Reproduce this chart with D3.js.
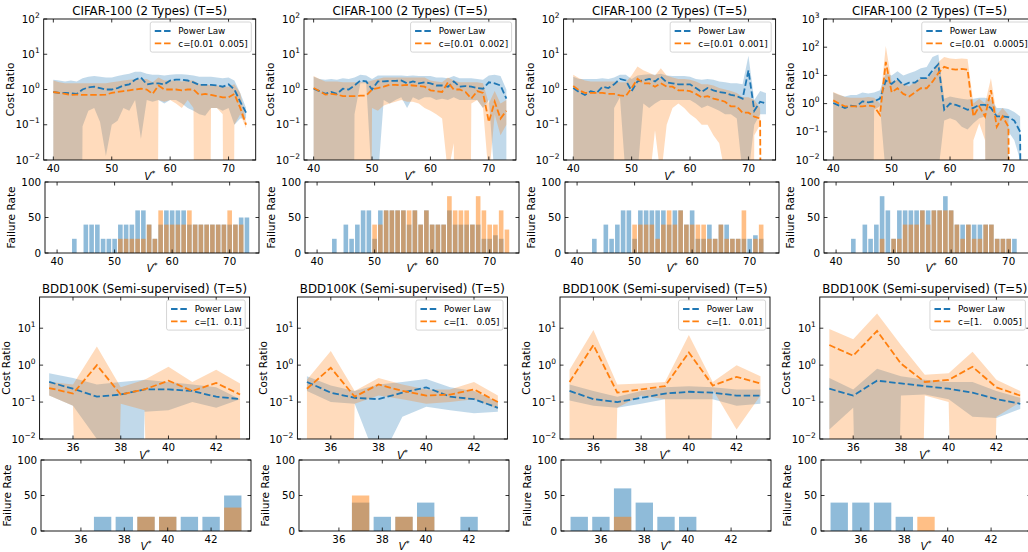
<!DOCTYPE html>
<html>
<head>
<meta charset="utf-8">
<script src="https://cdn.jsdelivr.net/npm/d3@7"></script>
<style>
  body { margin: 0; background: #fff; }
  svg { font-family: "DejaVu Sans", sans-serif; }
  text { white-space: pre; }
</style>
</head>
<body>
<svg id="chart" width="1028" height="552"></svg>
<script>
// null = lower bound below zero (matplotlib clips it to the bottom of a log axis)
const N = null;

const vCifar = [40,41,42,43,44,45,46,47,48,49,50,51,52,53,54,55,56,57,58,59,60,61,62,63,64,65,66,67,68,69,70,71,72,73];
const vBdd = [35,36,37,38,39,40,41,42,43];

const cifarTitle = "CIFAR-100 (2 Types) (T=5)";
const bddTitle = "BDD100K (Semi-supervised) (T=5)";
const cLabels = ["c=[0.01  0.005]", "c=[0.01  0.002]", "c=[0.01  0.001]", "c=[0.01   0.0005]",
                 "c=[1.  0.1]", "c=[1.   0.05]", "c=[1.   0.01]", "c=[1.    0.005]"];

// ---------- CIFAR panel 1 ----------
const p1PowMean = [0.85,0.8,0.8,0.78,0.75,1.0,1.15,1.2,1.1,1.0,1.0,1.1,1.3,1.4,1.9,2.2,1.4,1.5,1.5,1.4,1.8,1.9,1.9,1.8,1.6,1.35,1.35,1.35,1.3,1.2,1.4,1.0,0.45,0.22];
const p1PowHi = [1.9,1.8,1.7,1.8,1.7,2.1,2.3,2.4,2.3,2.2,2.2,2.4,2.6,2.8,3.2,3.2,2.8,2.6,2.6,2.5,2.6,2.7,2.7,2.6,2.5,2.3,2.3,2.3,2.2,2.1,2.2,1.8,0.8,0.3];
const p1PowLo = [N,N,N,N,N,0.09,0.25,0.3,0.12,0.013,0.1,0.13,0.3,0.25,0.5,0.04,0.5,0.45,0.5,0.4,0.5,0.5,0.4,0.3,0.25,0.2,0.18,0.3,0.3,0.25,0.3,0.1,0.15,0.15];
const p1CMean = [0.85,0.8,0.75,0.7,0.72,0.7,0.7,0.7,0.7,0.72,0.8,0.85,0.9,0.95,1.0,1.05,1.0,0.75,1.3,1.0,1.0,1.0,0.95,1.0,1.0,0.7,0.75,0.7,0.65,0.6,0.6,0.75,0.3,0.1];
const p1CHi = [1.8,1.6,1.5,1.5,1.5,1.5,1.5,1.5,1.5,1.5,1.6,1.7,1.8,1.9,2.0,2.0,2.0,1.6,2.2,1.8,1.8,1.8,1.7,1.8,1.8,1.4,1.4,1.3,1.3,1.2,1.2,1.4,0.8,0.12];
const p1CLo = [N,N,N,N,N,N,N,N,N,N,N,N,N,N,N,N,N,N,0.5,0.45,0.5,0.4,0.3,0.5,0.3,N,N,0.3,0.3,0.2,N,0.1,0.2,0.08];
const p1PowFail = [0,0,0,20,0,40,40,40,20,20,20,40,40,40,60,60,40,20,40,60,60,60,60,40,40,40,40,40,40,40,40,40,50,50];
const p1CFail = [0,0,0,0,0,0,0,0,0,0,0,20,20,20,20,20,40,20,60,40,40,40,40,60,40,40,40,40,40,40,60,40,40,0];

// ---------- CIFAR panel 2 ----------
const p2PowMean = [1.05,0.9,0.75,0.85,0.75,1.05,1.0,1.3,1.8,1.7,1.0,1.7,1.7,1.75,1.75,1.8,1.5,1.7,1.5,1.6,1.5,1.3,1.3,1.2,1.7,1.2,1.25,1.2,1.1,1.05,1.6,1.5,1.3,0.55];
const p2PowHi = [2.3,2.0,1.9,2.0,1.9,2.1,2.0,2.2,2.6,2.5,2.0,2.5,2.5,2.5,2.5,2.5,2.4,2.5,2.4,2.4,2.4,2.2,2.2,2.1,2.4,2.1,2.1,2.1,2.0,1.9,2.5,2.6,2.4,1.0];
const p2PowLo = [N,N,N,N,N,N,N,0.2,1.5,1.5,0.002,0.003,0.5,0.4,0.5,0.6,0.3,0.6,0.5,0.6,0.6,0.5,0.55,0.5,0.6,0.5,0.5,0.5,0.5,0.3,0.5,0.003,N,N];
const p2CMean = [1.1,0.9,0.72,0.75,0.72,0.65,0.65,0.65,0.67,0.67,1.0,1.1,1.2,1.35,1.35,1.3,1.35,1.3,1.25,1.2,0.95,0.9,0.85,1.6,1.0,1.0,0.85,0.55,0.9,0.8,0.12,0.45,0.15,0.25];
const p2CHi = [2.4,2.0,1.7,1.7,1.7,1.6,1.6,1.6,1.6,1.6,1.8,2.0,2.2,2.2,2.2,2.2,2.2,2.2,2.2,2.2,1.8,1.7,1.6,2.2,1.8,1.6,1.6,1.6,1.6,1.5,0.4,0.9,0.4,0.5];
const p2CLo = [N,N,N,N,N,N,N,N,N,N,0.3,0.25,0.35,0.4,0.45,0.5,0.45,0.45,0.4,0.3,0.25,0.2,0.15,0.004,0.03,N,N,0.4,0.5,0.3,0.003,0.2,0.05,0.1];
const p2PowFail = [0,0,0,20,0,40,20,40,60,60,20,60,60,60,60,60,40,60,40,60,40,40,40,60,40,40,40,40,40,20,20,25,20,0];
const p2CFail = [0,0,0,0,0,0,0,0,0,0,40,40,60,60,60,60,60,60,40,60,40,40,40,80,60,60,60,40,80,60,40,40,60,33];

// ---------- CIFAR panel 3 ----------
const p3PowMean = [1.1,0.85,0.7,0.9,0.8,1.2,1.1,1.4,2.0,1.8,0.9,1.7,1.8,2.0,1.7,2.3,1.6,1.5,1.4,1.4,1.4,1.1,0.85,1.1,0.95,0.85,0.8,0.7,0.65,0.55,3.5,0.25,0.45,0.4];
const p3PowHi = [2.3,2.0,2.0,2.0,2.0,2.1,2.0,2.2,2.6,2.6,2.0,2.5,2.6,2.7,2.6,2.8,2.5,2.4,2.4,2.4,2.3,2.0,1.9,2.0,1.9,1.7,1.6,1.5,1.5,1.4,9,0.5,0.9,0.8];
const p3PowLo = [N,N,N,N,N,N,N,0.3,0.6,0.003,N,0.004,0.4,0.3,0.4,0.5,0.5,0.5,0.5,0.5,0.5,0.4,0.3,0.35,0.3,0.25,0.2,0.2,0.15,0.004,0.004,0.1,0.2,0.2];
const p3CMean = [1.25,0.95,0.8,0.8,0.8,0.8,0.75,0.75,0.68,0.65,1.1,2.0,1.5,1.5,1.2,1.5,1.2,1.2,0.95,0.95,0.9,0.75,0.6,0.65,0.55,0.5,0.45,0.33,0.33,0.22,0.22,0.17,0.15,N];
const p3CHi = [2.6,2.1,1.8,1.7,1.7,1.7,1.7,1.7,1.6,1.6,2.5,4.5,3.5,3.0,2.5,4.0,2.5,2.2,2.0,2.0,1.9,1.7,1.4,1.4,1.3,1.1,1.0,0.9,0.8,0.6,0.6,0.5,0.3,N];
const p3CLo = [N,N,N,N,N,N,N,N,N,N,N,N,N,0.002,0.07,0.003,0.1,0.3,0.4,0.3,0.2,0.15,0.1,0.1,0.05,0.03,0.004,N,N,N,N,0.05,0.1,N];
const p3PowFail = [0,0,0,20,0,40,20,40,60,60,20,60,60,60,60,60,40,60,60,40,60,20,20,40,20,40,40,20,20,20,20,25,20,0];
const p3CFail = [0,0,0,0,0,0,0,0,0,0,40,40,40,40,20,40,60,40,60,40,40,40,40,20,20,40,20,20,20,60,0,20,40,0];

// ---------- CIFAR panel 4 ----------
const p4PowMean = [1.05,0.85,0.7,0.85,0.8,1.2,1.1,1.2,1.5,6.5,5,7.5,4.5,5.5,5.5,8,8,15,25,0.6,1.0,0.9,0.75,0.6,0.7,0.9,0.9,0.7,0.35,0.35,0.33,0.25,0.1,N];
const p4PowHi = [2.5,2.0,1.8,2.0,2.0,2.5,2.3,2.5,3.0,12,10,14,10,12,14,18,20,45,55,1.5,1.8,1.6,1.5,1.4,1.5,1.6,1.6,1.4,0.7,0.7,0.65,0.5,0.35,N];
const p4PowLo = [N,N,N,N,N,N,N,0.6,0.8,0.003,N,N,N,N,N,N,N,N,0.004,0.25,0.3,0.25,0.15,0.12,0.2,0.3,0.35,N,N,N,0.1,0.05,0.01,N];
const p4CMean = [1.3,1.0,0.8,0.8,0.8,0.8,0.85,0.8,0.4,30,2.5,3.5,2.2,1.8,2.5,3.5,3.5,6,12,20,17,16,17,16,0.35,0.8,0.35,3,0.15,0.35,0.15,N,N,N];
const p4CHi = [2.6,2.1,1.7,1.6,1.6,1.6,1.7,1.6,1.0,110,6,7,5,4,6,8,8,12,30,45,40,38,40,38,1.0,1.5,1.0,8,0.4,0.7,0.4,N,N,N];
const p4CLo = [N,N,N,N,N,N,N,N,N,N,N,N,N,N,N,N,N,N,N,N,N,N,N,N,0.05,0.2,0.05,N,N,N,N,N,N,N];
const p4PowFail = [0,0,0,20,0,40,20,40,80,60,20,60,60,60,60,60,60,60,60,80,60,40,40,40,40,40,40,40,20,20,20,20,0,0];
const p4CFail = [0,0,0,0,0,0,0,0,20,0,20,20,40,40,40,60,40,60,60,60,60,40,20,40,20,20,40,40,20,20,20,0,0,0];

// ---------- BDD panel 5 ----------
const p5PowMean = [0.35,0.23,0.14,0.16,0.22,0.22,0.2,0.14,0.12];
const p5PowHi = [0.6,0.45,0.3,0.35,0.4,0.35,0.3,0.25,0.12];
const p5PowLo = [0.15,0.08,0.01,N,0.055,0.06,0.1,0.07,0.12];
const p5CMean = [0.24,0.17,1.0,0.16,0.22,0.38,0.2,0.33,0.16];
const p5CHi = [0.35,0.3,3.2,0.25,0.4,0.9,0.35,0.75,0.32];
const p5CLo = [0.15,0.08,N,0.09,0.06,N,N,N,N];
const p5PowFail = [0,0,20,20,20,20,20,20,50];
const p5CFail = [0,0,0,0,20,20,0,0,33];

// ---------- BDD panel 6 ----------
const p6PowMean = [0.35,0.18,0.13,0.12,0.18,0.25,0.14,0.12,0.07];
const p6PowHi = [0.5,0.28,0.2,0.3,0.35,0.42,0.25,0.2,0.1];
const p6PowLo = [0.2,0.1,0.09,0.002,0.04,0.075,0.06,0.05,0.055];
const p6CMean = [0.23,0.85,0.14,0.3,0.2,0.15,0.16,0.22,0.1];
const p6CHi = [0.4,2.4,0.2,0.45,0.3,0.22,0.22,0.35,0.15];
const p6CLo = [N,N,0.09,0.15,0.12,0.09,0.1,0.12,0.065];
const p6PowFail = [0,0,40,20,20,40,0,20,0];
const p6CFail = [0,0,50,0,20,20,0,0,0];

// ---------- BDD panel 7 ----------
const p7PowMean = [0.2,0.12,0.1,0.13,0.17,0.19,0.18,0.15,0.15];
const p7PowHi = [0.3,0.2,0.14,0.2,0.25,0.27,0.25,0.22,0.22];
const p7PowLo = [0.11,0.08,0.07,0.09,0.12,0.12,0.12,0.08,0.09];
const p7CMean = [0.35,3.5,0.18,0.22,0.27,2.2,0.28,0.48,0.32];
const p7CHi = [0.75,9,0.3,0.32,0.35,6.5,0.35,1.0,0.5];
const p7CLo = [N,N,0.07,0.15,0.12,N,0.22,0.018,0.15];
const p7PowFail = [20,20,60,40,20,20,0,0,0];
const p7CFail = [0,0,20,0,0,0,0,0,0];

// ---------- BDD panel 8 ----------
const p8PowMean = [0.23,0.15,0.38,0.32,0.27,0.23,0.18,0.12,0.09];
const p8PowHi = [0.45,0.22,0.8,0.5,0.4,0.35,0.35,0.2,0.13];
const p8PowLo = [0.018,0.07,N,0.15,0.16,0.12,0.04,0.037,0.065];
const p8CMean = [3.5,1.8,8.5,1.1,0.35,0.4,0.9,0.25,0.15];
const p8CHi = [9.5,5,25,3.5,0.55,0.6,2.3,0.4,0.2];
const p8CLo = [N,N,N,N,0.15,0.1,N,0.04,0.1];
const p8PowFail = [40,40,40,20,0,0,0,0,0];
const p8CFail = [0,0,0,0,20,0,0,0,0];

// ---------- layout ----------
const svg = d3.select("#chart");
const BLUE = "#1f77b4", ORANGE = "#ff7f0e";

const rows = {
  cifarLine: { top: 19, h: 141, lefts: [43.7, 304, 563.6, 823.6], w: 212 },
  cifarBar:  { top: 182, h: 71, lefts: [45, 305, 565, 824], w: 214 },
  bddLine:   { top: 297, h: 142, lefts: [39.6, 297.4, 560, 819.8], w: 210 },
  bddBar:    { top: 460, h: 71, lefts: [41, 299, 561, 821], w: 210 }
};

const linePanels = [
  { row: "cifarLine", col: 0, v: vCifar, xDom: [38.35, 74.65], yDom: [0.01, 100], xt: [40,50,60,70], yt: [-2,-1,0,1,2], title: cifarTitle,
    pow: [p1PowMean, p1PowLo, p1PowHi], c: [p1CMean, p1CLo, p1CHi], lab: cLabels[0] },
  { row: "cifarLine", col: 1, v: vCifar, xDom: [38.35, 74.65], yDom: [0.01, 100], xt: [40,50,60,70], yt: [-2,-1,0,1,2], title: cifarTitle,
    pow: [p2PowMean, p2PowLo, p2PowHi], c: [p2CMean, p2CLo, p2CHi], lab: cLabels[1] },
  { row: "cifarLine", col: 2, v: vCifar, xDom: [38.35, 74.65], yDom: [0.01, 100], xt: [40,50,60,70], yt: [-2,-1,0,1,2], title: cifarTitle,
    pow: [p3PowMean, p3PowLo, p3PowHi], c: [p3CMean, p3CLo, p3CHi], lab: cLabels[2] },
  { row: "cifarLine", col: 3, v: vCifar, xDom: [38.35, 74.65], yDom: [0.01, 1000], xt: [40,50,60,70], yt: [-2,-1,0,1,2,3], title: cifarTitle,
    pow: [p4PowMean, p4PowLo, p4PowHi], c: [p4CMean, p4CLo, p4CHi], lab: cLabels[3] },
  { row: "bddLine", col: 0, v: vBdd, xDom: [34.6, 43.4], yDom: [0.01, 70], xt: [36,38,40,42], yt: [-2,-1,0,1], title: bddTitle,
    pow: [p5PowMean, p5PowLo, p5PowHi], c: [p5CMean, p5CLo, p5CHi], lab: cLabels[4] },
  { row: "bddLine", col: 1, v: vBdd, xDom: [34.6, 43.4], yDom: [0.01, 70], xt: [36,38,40,42], yt: [-2,-1,0,1], title: bddTitle,
    pow: [p6PowMean, p6PowLo, p6PowHi], c: [p6CMean, p6CLo, p6CHi], lab: cLabels[5] },
  { row: "bddLine", col: 2, v: vBdd, xDom: [34.6, 43.4], yDom: [0.01, 70], xt: [36,38,40,42], yt: [-2,-1,0,1], title: bddTitle,
    pow: [p7PowMean, p7PowLo, p7PowHi], c: [p7CMean, p7CLo, p7CHi], lab: cLabels[6] },
  { row: "bddLine", col: 3, v: vBdd, xDom: [34.6, 43.4], yDom: [0.01, 70], xt: [36,38,40,42], yt: [-2,-1,0,1], title: bddTitle,
    pow: [p8PowMean, p8PowLo, p8PowHi], c: [p8CMean, p8CLo, p8CHi], lab: cLabels[7] }
];

const barPanels = [
  { row: "cifarBar", col: 0, v: vCifar, xDom: [37.9, 75.1], xt: [40,50,60,70], pow: p1PowFail, c: p1CFail },
  { row: "cifarBar", col: 1, v: vCifar, xDom: [37.9, 75.1], xt: [40,50,60,70], pow: p2PowFail, c: p2CFail },
  { row: "cifarBar", col: 2, v: vCifar, xDom: [37.9, 75.1], xt: [40,50,60,70], pow: p3PowFail, c: p3CFail },
  { row: "cifarBar", col: 3, v: vCifar, xDom: [37.9, 75.1], xt: [40,50,60,70], pow: p4PowFail, c: p4CFail },
  { row: "bddBar", col: 0, v: vBdd, xDom: [34.16, 43.84], xt: [36,38,40,42], pow: p5PowFail, c: p5CFail },
  { row: "bddBar", col: 1, v: vBdd, xDom: [34.16, 43.84], xt: [36,38,40,42], pow: p6PowFail, c: p6CFail },
  { row: "bddBar", col: 2, v: vBdd, xDom: [34.16, 43.84], xt: [36,38,40,42], pow: p7PowFail, c: p7CFail },
  { row: "bddBar", col: 3, v: vBdd, xDom: [34.16, 43.84], xt: [36,38,40,42], pow: p8PowFail, c: p8CFail }
];

const FS_TICK = 10.3, FS_LABEL = 10.5, FS_TITLE = 11.8, FS_LEG = 8.8;
const TICK = 3.5;

function vStar(g, x, y) {
  const t = g.append("text").attr("x", x).attr("y", y).attr("text-anchor", "middle")
    .style("font-size", FS_LABEL + "px");
  t.append("tspan").style("font-style", "italic").text("V");
  t.append("tspan").attr("dy", -4).style("font-size", "7.5px").text("*");
}

function yLabel(g, x, y, s) {
  g.append("text").attr("transform", `translate(${x},${y}) rotate(-90)`)
    .attr("text-anchor", "middle").style("font-size", FS_LABEL + "px").text(s);
}

function frame(g, w, h, x, y, xt, yt) {
  // inward ticks on all four sides
  xt.forEach(t => {
    g.append("line").attr("x1", x(t)).attr("x2", x(t)).attr("y1", h).attr("y2", h - TICK).attr("stroke", "#000").attr("stroke-width", 0.8);
    g.append("line").attr("x1", x(t)).attr("x2", x(t)).attr("y1", 0).attr("y2", TICK).attr("stroke", "#000").attr("stroke-width", 0.8);
    g.append("text").attr("x", x(t)).attr("y", h + 11.5).attr("text-anchor", "middle")
      .style("font-size", FS_TICK + "px").text(t);
  });
  yt.forEach(t => {
    g.append("line").attr("x1", 0).attr("x2", TICK).attr("y1", y(t)).attr("y2", y(t)).attr("stroke", "#000").attr("stroke-width", 0.8);
    g.append("line").attr("x1", w).attr("x2", w - TICK).attr("y1", y(t)).attr("y2", y(t)).attr("stroke", "#000").attr("stroke-width", 0.8);
  });
  g.append("rect").attr("width", w).attr("height", h).attr("fill", "none").attr("stroke", "#000").attr("stroke-width", 0.9);
}

function drawLinePanel(p, i) {
  const R = rows[p.row];
  const w = R.w, h = R.h, left = R.lefts[p.col];
  const g = svg.append("g").attr("transform", `translate(${left},${R.top})`);
  const x = d3.scaleLinear().domain(p.xDom).range([0, w]);
  const y = d3.scaleLog().domain(p.yDom).range([h, 0]);
  const yv = d => y(d == null ? 1e-30 : d);

  const cid = "clipL" + i;
  g.append("clipPath").attr("id", cid).append("rect").attr("width", w).attr("height", h);
  const plot = g.append("g").attr("clip-path", `url(#${cid})`);

  const area = (lo, hi) => d3.area()
    .x((d, j) => x(p.v[j]))
    .y0((d, j) => Math.min(yv(lo[j]), 5000))
    .y1((d, j) => Math.min(yv(hi[j]), 5000))(p.v);
  const line = m => d3.line()
    .x((d, j) => x(p.v[j]))
    .y((d, j) => Math.min(yv(m[j]), 5000))(p.v);

  plot.append("path").attr("d", area(p.pow[1], p.pow[2])).attr("fill", BLUE).attr("fill-opacity", 0.28);
  plot.append("path").attr("d", area(p.c[1], p.c[2])).attr("fill", ORANGE).attr("fill-opacity", 0.28);
  plot.append("path").attr("d", line(p.pow[0])).attr("fill", "none").attr("stroke", BLUE)
    .attr("stroke-width", 1.8).attr("stroke-dasharray", "6.5,2.8");
  plot.append("path").attr("d", line(p.c[0])).attr("fill", "none").attr("stroke", ORANGE)
    .attr("stroke-width", 1.8).attr("stroke-dasharray", "6.5,2.8");

  frame(g, w, h, x, k => y(Math.pow(10, k)), p.xt, p.yt);

  // log tick labels 10^k
  p.yt.forEach(k => {
    const t = g.append("text").attr("x", -4).attr("y", y(Math.pow(10, k)) + 3.5)
      .attr("text-anchor", "end").style("font-size", FS_TICK + "px");
    t.append("tspan").text("10");
    t.append("tspan").attr("dy", -4.8).style("font-size", "7.5px").text(k < 0 ? "\u2212" + (-k) : String(k));
  });

  g.append("text").attr("x", w / 2).attr("y", -4).attr("text-anchor", "middle")
    .style("font-size", FS_TITLE + "px").text(p.title);
  yLabel(g, -30, h / 2, "Cost Ratio");
  vStar(g, w / 2, h + 20);

  // legend
  const leg = g.append("g");
  const items = [["Power Law", BLUE], [p.lab, ORANGE]];
  const texts = items.map(it => leg.append("text").attr("y", 0).style("font-size", FS_LEG + "px").text(it[0]));
  const tw = d3.max(texts, t => t.node().getComputedTextLength());
  const pad = 3.5, hl = 17.6, htp = 7, rowH = 12.3;
  const bw = pad * 2 + hl + htp + tw, bh = pad * 2 + rowH * 2 - 1.5;
  const bx = w - 4.4 - bw, by = 3;
  leg.insert("rect", "text").attr("x", bx).attr("y", by).attr("width", bw).attr("height", bh)
    .attr("rx", 2).attr("fill", "#fff").attr("fill-opacity", 0.8).attr("stroke", "#ccc").attr("stroke-width", 0.8);
  items.forEach((it, j) => {
    const cy = by + pad + 5.5 + j * rowH;
    leg.append("line").attr("x1", bx + pad + 1).attr("x2", bx + pad + hl).attr("y1", cy).attr("y2", cy)
      .attr("stroke", it[1]).attr("stroke-width", 1.8).attr("stroke-dasharray", "6.5,2.8");
    texts[j].attr("x", bx + pad + hl + htp).attr("y", cy + 3.2);
  });
}

function drawBarPanel(p, i) {
  const R = rows[p.row];
  const w = R.w, h = R.h, left = R.lefts[p.col];
  const g = svg.append("g").attr("transform", `translate(${left},${R.top})`);
  const x = d3.scaleLinear().domain(p.xDom).range([0, w]);
  const y = d3.scaleLinear().domain([0, 100]).range([h, 0]);

  [[p.pow, BLUE], [p.c, ORANGE]].forEach(([vals, col]) => {
    g.selectAll(null).data(vals.map((d, j) => ({ v: p.v[j], f: d })).filter(d => d.f > 0))
      .enter().append("rect")
      .attr("x", d => x(d.v - 0.4))
      .attr("width", d => x(d.v + 0.4) - x(d.v - 0.4))
      .attr("y", d => y(d.f))
      .attr("height", d => y(0) - y(d.f))
      .attr("fill", col).attr("fill-opacity", 0.5);
  });

  frame(g, w, h, x, y, p.xt, [0, 50, 100]);
  [0, 50, 100].forEach(t => {
    g.append("text").attr("x", -4).attr("y", y(t) + 3.7).attr("text-anchor", "end")
      .style("font-size", FS_TICK + "px").text(t);
  });
  yLabel(g, -30, h / 2, "Failure Rate");
  vStar(g, w / 2, h + 19);
}

linePanels.forEach(drawLinePanel);
barPanels.forEach(drawBarPanel);
</script>
</body>
</html>
